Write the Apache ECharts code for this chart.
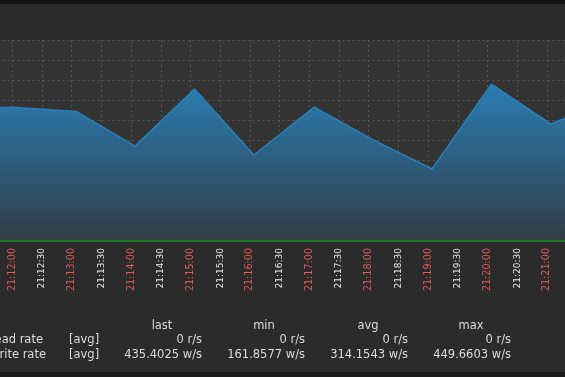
<!DOCTYPE html>
<html>
<head>
<meta charset="utf-8">
<script src="https://cdn.jsdelivr.net/npm/echarts@6/dist/echarts.min.js"></script>
<style>
  html, body { margin: 0; padding: 0; background: #2b2b2b; }
  #container { width: 565px; height: 377px; }
</style>
</head>
<body>
<div id="container"></div>
<script>
// sample times (one per minute) and values
var times = ['21:11:03', '21:12:03', '21:13:05', '21:14:04', '21:15:04', '21:16:04',
             '21:17:05', '21:18:05', '21:19:04', '21:20:04', '21:21:04', '21:22:04'];
var writeRate = [333, 332, 322, 236, 378, 214, 333, 251, 179, 390, 291, 352];
var readRate = [0, 0, 0, 0, 0, 0, 0, 0, 0, 0, 0, 0];

var legendCols = ['last', 'min', 'avg', 'max'];
var readStats = ['0 r/s', '0 r/s', '0 r/s', '0 r/s'];
var writeStats = ['435.4025 w/s', '161.8577 w/s', '314.1543 w/s', '449.6603 w/s'];

// seconds from 21:12:00
function toSec(t) {
    var p = t.split(':');
    return (+p[1] - 12) * 60 + (+p[2]);
}
function secLabel(v) {
    var total = 12 * 60 + v;
    var m = Math.floor(total / 60), s = total % 60;
    return '21:' + (m < 10 ? '0' : '') + m + ':' + (s < 10 ? '0' : '') + s;
}

var writeData = times.map(function (t, i) { return [toSec(t), writeRate[i]]; });
var readData = times.map(function (t, i) { return [toSec(t), readRate[i]]; });

var dom = document.getElementById('container');
var myChart = echarts.init(dom, null, { renderer: 'canvas' });

var font = 'DejaVu Sans';
var txt = '#dcdcdc';
var colX = [162, 264, 368, 471];
var colR = [202, 305, 408, 511];

var graphics = [
    { type: 'rect', shape: { x: 0, y: 0, width: 565, height: 4 }, style: { fill: '#111315' } },
    { type: 'rect', shape: { x: 0, y: 372, width: 565, height: 5 }, style: { fill: '#1c1c1c' } },
    { type: 'text', style: { x: 43, y: 340, text: 'read rate', align: 'right', verticalAlign: 'middle', fill: txt, font: '11.5px ' + font } },
    { type: 'text', style: { x: 46, y: 355, text: 'write rate', align: 'right', verticalAlign: 'middle', fill: txt, font: '11.5px ' + font } },
    { type: 'text', style: { x: 69, y: 340, text: '[avg]', verticalAlign: 'middle', fill: txt, font: '11.5px ' + font } },
    { type: 'text', style: { x: 69, y: 355, text: '[avg]', verticalAlign: 'middle', fill: txt, font: '11.5px ' + font } }
];
legendCols.forEach(function (c, i) {
    graphics.push({ type: 'text', style: { x: colX[i], y: 326, text: c, align: 'center', verticalAlign: 'middle', fill: txt, font: '11.5px ' + font } });
    graphics.push({ type: 'text', style: { x: colR[i], y: 340, text: readStats[i], align: 'right', verticalAlign: 'middle', fill: txt, font: '11.5px ' + font } });
    graphics.push({ type: 'text', style: { x: colR[i], y: 355, text: writeStats[i], align: 'right', verticalAlign: 'middle', fill: txt, font: '11.5px ' + font } });
});

var option = {
    backgroundColor: '#2b2b2b',
    animation: false,
    grid: {
        left: -17.4, top: 40, width: 594, height: 201,
        show: true, backgroundColor: '#333333', borderWidth: 0,
        outerBoundsMode: 'none', containLabel: false
    },
    xAxis: {
        type: 'value',
        min: -30, max: 570, interval: 30,
        axisLine: { show: false },
        axisTick: { show: false },
        splitLine: { show: true, lineStyle: { color: '#555', type: [2, 3], width: 1 } },
        axisLabel: {
            rotate: 90, margin: 7,
            showMinLabel: true, showMaxLabel: true,
            fontFamily: font,
            formatter: function (v) {
                return (v % 60 === 0 ? '{r|' : '{w|') + secLabel(v) + '}';
            },
            rich: {
                r: { color: '#e05a5a', fontSize: 9.6, fontFamily: font },
                w: { color: '#e8e8e8', fontSize: 9, fontFamily: font }
            }
        }
    },
    yAxis: {
        type: 'value',
        min: 0, max: 500, interval: 50,
        axisLine: { show: false },
        axisTick: { show: false },
        axisLabel: { show: false },
        splitLine: { show: true, lineStyle: { color: '#555', type: [2, 3], width: 1 } }
    },
    graphic: graphics,
    series: [
        {
            name: 'write rate',
            type: 'line',
            data: writeData,
            symbol: 'none',
            clip: true,
            lineStyle: { color: '#2a80b8', width: 1.5 },
            areaStyle: {
                opacity: 1,
                color: new echarts.graphic.LinearGradient(0, 0, 0, 1, [
                    { offset: 0, color: '#2a7db4' },
                    { offset: 1, color: '#323c46' }
                ])
            },
            z: 2
        },
        {
            name: 'read rate',
            type: 'line',
            data: readData,
            symbol: 'none',
            clip: false,
            lineStyle: { color: '#1f7a24', width: 2 },
            z: 3
        }
    ]
};

if (option && typeof option === 'object') {
    myChart.setOption(option);
}

window.addEventListener('resize', myChart.resize);
</script>
</body>
</html>
